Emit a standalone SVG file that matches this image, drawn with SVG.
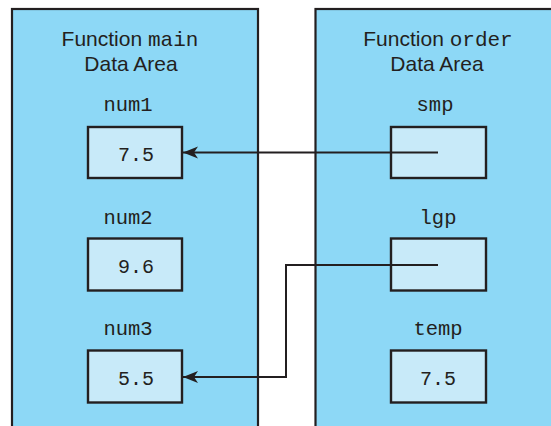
<svg xmlns="http://www.w3.org/2000/svg" width="551" height="426" viewBox="0 0 551 426">
<style>
.panel{fill:#8DD8F6;stroke:#231F20;stroke-width:2.2}
.box{fill:#C8EAF9;stroke:#231F20;stroke-width:2.4}
.sans{font-family:"Liberation Sans",Arial,sans-serif;font-size:21px;fill:#231F20;text-anchor:middle}
.mono{font-family:"Liberation Mono","Courier New",monospace;font-size:20px;fill:#231F20;text-anchor:middle}
.lbl{font-size:20.5px}
.conn{fill:none;stroke:#231F20;stroke-width:2}
</style>
<defs>
<marker id="arr" markerUnits="userSpaceOnUse" markerWidth="16" markerHeight="14" refX="15" refY="7" orient="auto">
<path d="M0,1 L15,7 L0,13 L4,7 Z" fill="#231F20"/>
</marker>
</defs>
<rect width="551" height="426" fill="#FFFFFF"/>
<g id="panel-main">
<rect class="panel" x="12" y="9" width="246" height="430"/>
<text class="sans" x="130" y="46">Function <tspan class="mono" style="font-size:21px">main</tspan></text>
<text class="sans" x="131" y="71">Data Area</text>
</g>
<g id="panel-order">
<rect class="panel" x="315.5" y="9" width="250" height="430"/>
<text class="sans" x="438" y="46">Function <tspan class="mono" style="font-size:21px">order</tspan></text>
<text class="sans" x="437" y="71">Data Area</text>
</g>
<g id="num1">
<text class="mono lbl" x="128" y="111">num1</text>
<rect class="box" x="88" y="127" width="94" height="51"/>
<text class="mono" x="136" y="161">7.5</text>
</g>
<g id="num2">
<text class="mono lbl" x="128" y="224">num2</text>
<rect class="box" x="88" y="238.5" width="94" height="52"/>
<text class="mono" x="136" y="273">9.6</text>
</g>
<g id="num3">
<text class="mono lbl" x="128" y="335">num3</text>
<rect class="box" x="88" y="350.5" width="94" height="52"/>
<text class="mono" x="136" y="385">5.5</text>
</g>
<g id="smp">
<text class="mono lbl" x="435" y="111">smp</text>
<rect class="box" x="391" y="127" width="95" height="51"/>
</g>
<g id="lgp">
<text class="mono lbl" x="438" y="224">lgp</text>
<rect class="box" x="391" y="238.5" width="95" height="52"/>
</g>
<g id="temp">
<text class="mono lbl" x="438" y="335">temp</text>
<rect class="box" x="391" y="350.5" width="95" height="52"/>
<text class="mono" x="438" y="385">7.5</text>
</g>
<g id="connectors">
<path class="conn" d="M438,152.5 H183" marker-end="url(#arr)"/>
<path class="conn" d="M438,265 H286 V377 H183" marker-end="url(#arr)"/>
</g>
</svg>
